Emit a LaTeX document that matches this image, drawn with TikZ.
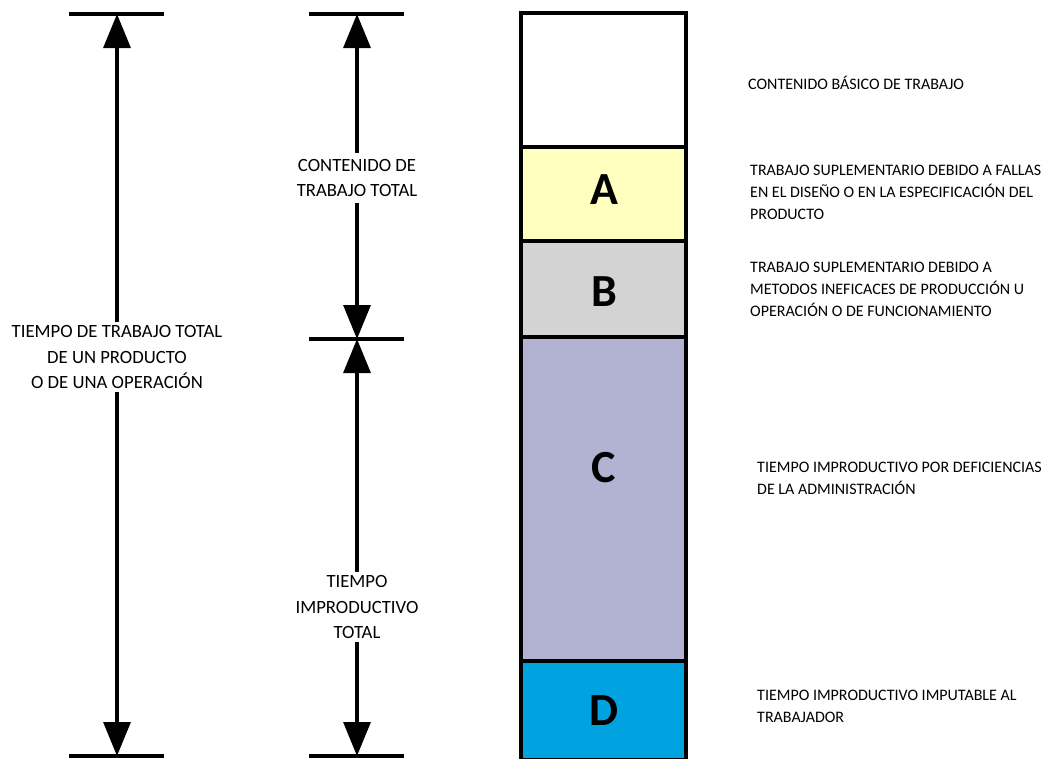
\documentclass[tikz,border=0pt]{standalone}
\usepackage{fontspec}
\setmainfont{Carlito}
\usepackage{tikz}
\usetikzlibrary{arrows.meta,positioning}
\definecolor{segA}{RGB}{255,255,192}
\definecolor{segB}{RGB}{211,211,211}
\definecolor{segC}{RGB}{178,179,211}
\definecolor{segD}{RGB}{0,162,224}

\begin{document}
\begin{tikzpicture}[
		x=1pt,y=-1pt,
		font=\fontsize{18.7}{25.5}\selectfont,
		dim/.style={-{Triangle[length=34pt,width=27pt]},line width=3.2pt},
		tick/.style={line width=3.2pt},
		lbl/.style={align=center,inner xsep=0pt,inner ysep=3.5pt},
		note/.style={align=left,anchor=base west,inner sep=0pt,font=\fontsize{16}{22}\selectfont},
		seg/.style={draw,line width=3.5pt},
		letter/.style={font=\fontsize{46}{50}\selectfont\bfseries}]
		\useasboundingbox (0,0) rectangle (1044,758);
		
		% Draw ticks
		\draw[tick] (69,14) -- (164,14);
		\draw[tick] (69,756) -- (164,756);
		\draw[tick] (309,14) -- (404,14);
		\draw[tick] (309,339) -- (404,339);
		\draw[tick] (309,756) -- (404,756);
		
		\draw
		(117,14) coordinate (ltop)
		(117,756) coordinate (lbot)
		(357,14) coordinate (mtop)
		(357,339) coordinate (mmid)
		(357,756) coordinate (mbot);
		
		% Labels of the dimensions
		\node[lbl] (total) at (117,357) {TIEMPO DE TRABAJO TOTAL\\DE UN PRODUCTO\\O DE UNA OPERACIÓN};
		\node[lbl,inner ysep=6pt] (work) at (357,178) {CONTENIDO DE\\TRABAJO TOTAL};
		\node[lbl] (idle) at (357,607) {TIEMPO\\IMPRODUCTIVO\\TOTAL};
		
		\draw[dim] (total) -- (ltop);
		\draw[dim] (total) -- (lbot);
		\draw[dim] (work) -- (mtop);
		\draw[dim] (work) -- (mmid);
		\draw[dim] (idle) -- (mmid);
		\draw[dim] (idle) -- (mbot);
		
		% Draw bar
		\draw[seg,fill=white] (521,13) rectangle (686,147);
		\draw[seg,fill=segA] (521,147) rectangle (686,241);
		\draw[seg,fill=segB] (521,241) rectangle (686,337);
		\draw[seg,fill=segC] (521,337) rectangle (686,661);
		\draw[seg,fill=segD] (521,661) rectangle (686,760);
		
		\node[letter] (A) at (604,190) {A};
		\node[letter] (B) at (604,292) {B};
		\node[letter] (C) at (604,468) {C};
		\node[letter] (D) at (604,711) {D};
		
		% Notes (base = last line)
		\node[note] (basic) at (748,89) {CONTENIDO BÁSICO DE TRABAJO};
		\node[note] (noteA) at (750,219) {TRABAJO SUPLEMENTARIO DEBIDO A FALLAS\\EN EL DISEÑO O EN LA ESPECIFICACIÓN DEL\\PRODUCTO};
		\node[note] (noteB) at (750,316) {TRABAJO SUPLEMENTARIO DEBIDO A\\METODOS INEFICACES DE PRODUCCIÓN U\\OPERACIÓN O DE FUNCIONAMIENTO};
		\node[note] (noteC) at (757,494) {TIEMPO IMPRODUCTIVO POR DEFICIENCIAS\\DE LA ADMINISTRACIÓN};
		\node[note] (noteD) at (757,722) {TIEMPO IMPRODUCTIVO IMPUTABLE AL\\TRABAJADOR};
		
\end{tikzpicture}
\end{document}
